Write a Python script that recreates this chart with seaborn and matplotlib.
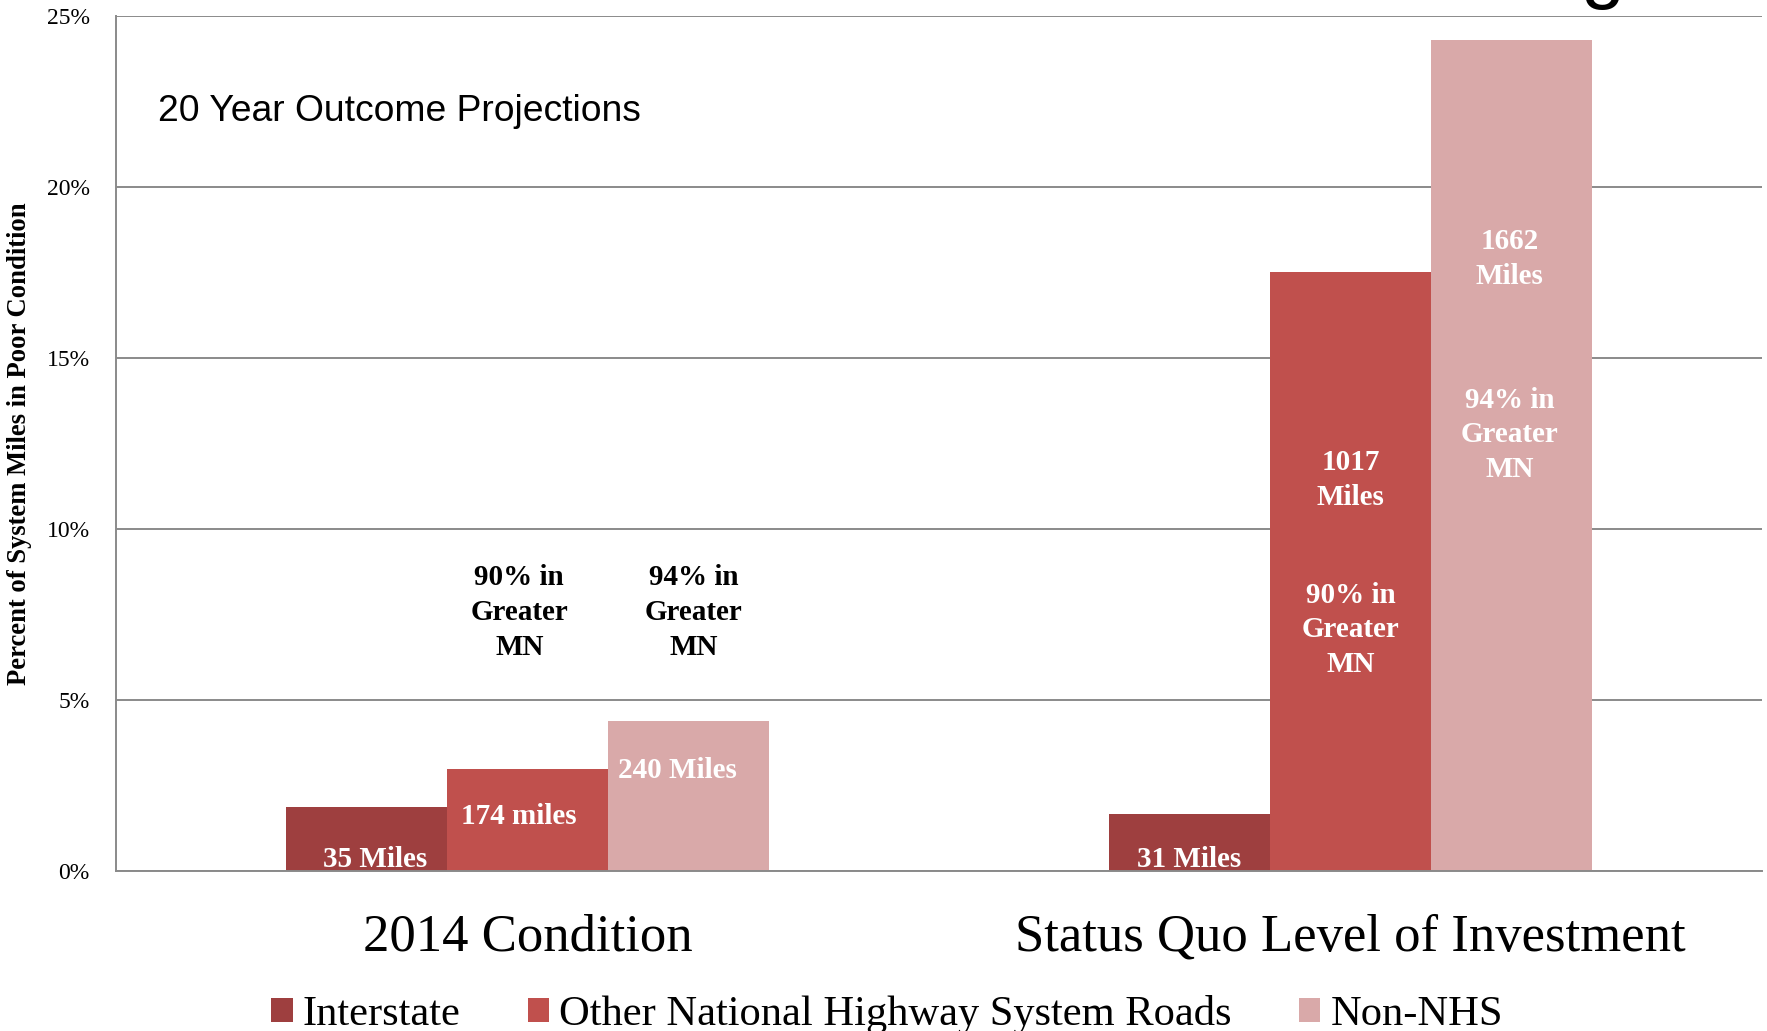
import matplotlib
matplotlib.use("Agg")
import matplotlib.pyplot as plt
import seaborn as sns
import pandas as pd
from matplotlib.ticker import FuncFormatter

# ---- data ----
scenarios = ["2014 Condition", "Status Quo Level of Investment"]
road_types = ["Interstate", "Other National Highway System Roads", "Non-NHS"]
interstate = [1.88, 1.68]
other_nhs = [2.97, 17.51]
non_nhs = [4.39, 24.31]
yticks = [0, 5, 10, 15, 20, 25]
colors = ["#9E3F3F", "#C0504D", "#D9A9A9"]

rows = []
for road, vals in zip(road_types, [interstate, other_nhs, non_nhs]):
    for sc, v in zip(scenarios, vals):
        rows.append({"scenario": sc, "road": road, "pct": v})
df = pd.DataFrame(rows)

sns.set_style("white")
plt.rcParams["font.family"] = ["Liberation Serif", "DejaVu Serif"]
plt.rcParams["text.color"] = "black"
plt.rcParams["axes.labelcolor"] = "black"
plt.rcParams["xtick.color"] = "black"
plt.rcParams["ytick.color"] = "black"

fig = plt.figure(figsize=(17.67, 10.31), dpi=100)
ax = fig.add_axes([116 / 1767, 1 - 871 / 1031, 1646 / 1767, 855 / 1031])

sns.barplot(data=df, x="scenario", y="pct", hue="road", order=scenarios,
            hue_order=road_types, palette=dict(zip(road_types, colors)),
            width=0.587, gap=0, saturation=1, errorbar=None, linewidth=0,
            ax=ax)

ax.set_xlim(-0.5, 1.5)
ax.set_ylim(0, 25)
ax.set_yticks(yticks)
ax.yaxis.set_major_formatter(FuncFormatter(lambda v, p: f"{v:.0f}%"))
ax.yaxis.grid(True, color="#8a8a8a", linewidth=1.4)
ax.set_axisbelow(True)
for s in ["top", "right"]:
    ax.spines[s].set_visible(False)
for s in ["left", "bottom"]:
    ax.spines[s].set_color("#8a8a8a")
    ax.spines[s].set_linewidth(1.4)
ax.tick_params(axis="y", length=0, pad=19, labelsize=17, labelcolor="black")
ax.tick_params(axis="x", length=0, pad=30.5, labelsize=38, labelcolor="black")
ax.set_xlabel("")
ax.set_ylabel("Percent of System Miles in Poor Condition", fontsize=19.2,
              fontweight="bold", va="center", color="black")
ax.yaxis.set_label_coords(-96 / 1646, 0.5)

# legend
handles, labels = ax.get_legend_handles_labels()
ax.get_legend().remove()
fig.legend(handles, labels, loc="center", bbox_to_anchor=(0.502, 0.0162),
           ncol=3, frameon=False, fontsize=30.6, handlelength=0.5,
           handleheight=0.5, handletextpad=0.24, columnspacing=1.58,
           borderpad=0, borderaxespad=0, labelcolor="black")

# annotations
bw = 0.587 / 3
lab_kw = dict(color="white", fontsize=21, fontweight="bold", ha="center",
              va="center", linespacing=1.36)
ax.text(-bw + 0.01, 0.35, "35 Miles", **lab_kw)
ax.text(-0.01, 1.58, "174 miles", **lab_kw)
ax.text(bw - 0.013, 2.95, "240 Miles", **lab_kw)
ax.text(1 - bw, 0.35, "31 Miles", **lab_kw)
ax.text(1.0, 11.43, "1017\nMiles", **lab_kw)
ax.text(1.0, 7.05, "90% in\nGreater\nMN", **lab_kw)
ax.text(1 + bw - 0.002, 17.9, "1662\nMiles", **lab_kw)
ax.text(1 + bw - 0.002, 12.75, "94% in\nGreater\nMN", **lab_kw)
blk_kw = dict(lab_kw, color="black")
ax.text(-0.01, 7.56, "90% in\nGreater\nMN", **blk_kw)
ax.text(bw + 0.006, 7.56, "94% in\nGreater\nMN", **blk_kw)

ax.text(42 / 1646, 0.888, "20 Year Outcome Projections", transform=ax.transAxes,
        fontsize=26.8, family=["Liberation Sans", "DejaVu Sans"],
        ha="left", va="center", color="black")

# cut-off title fragment at the top
fig.text(1603 / 1767, 1.0064, "g", fontsize=57,
         family=["Liberation Sans", "DejaVu Sans"], ha="center", va="baseline",
         color="black")

fig.savefig("out.png", dpi=100)
